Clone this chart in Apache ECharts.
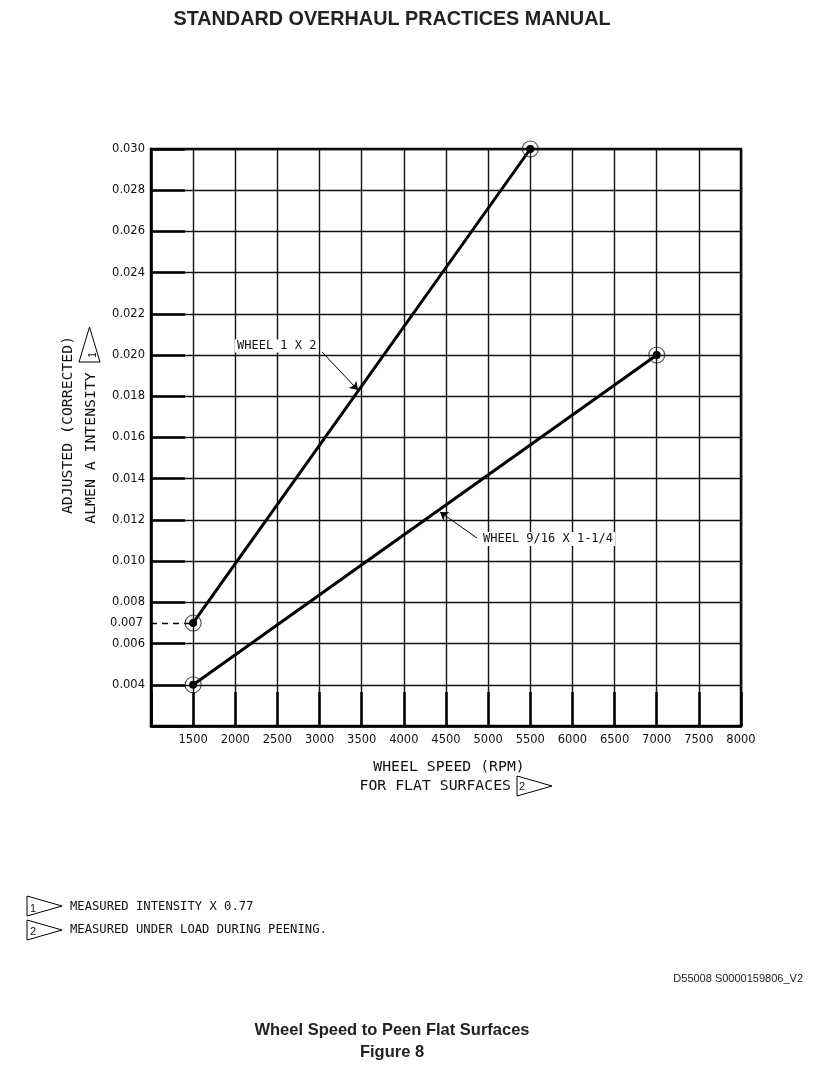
<!DOCTYPE html>
<html>
<head>
<meta charset="utf-8">
<script src="https://cdn.jsdelivr.net/npm/echarts@6/dist/echarts.min.js"></script>
<style>
  html, body { margin: 0; padding: 0; background: #fff; }
  #c { width: 813px; height: 1080px; }
</style>
</head>
<body>
<div id="c"></div>
<script>
// ---- data ----
const wheel1x2 = [[1500, 0.007], [5500, 0.030]];
const wheel916 = [[1500, 0.004], [7000, 0.020]];
const xTickLabels = [1500, 2000, 2500, 3000, 3500, 4000, 4500, 5000, 5500, 6000, 6500, 7000, 7500, 8000];
const yTickLabels = ['0.004', '0.006', '0.008', '0.010', '0.012', '0.014', '0.016', '0.018', '0.020',
                     '0.022', '0.024', '0.026', '0.028', '0.030'];
const refLine007 = [[1000, 0.007], [1500, 0.007]];
const leader1 = [[3029, 0.02015], [3456, 0.0183]];
const leader2 = [[4868, 0.01112], [4429, 0.01239]];

const mono = "'DejaVu Sans Mono', 'Liberation Mono', monospace";
const sans = "'DejaVu Sans', sans-serif";
const arial = "'Liberation Sans', Arial, sans-serif";

const chart = echarts.init(document.getElementById('c'), null, { renderer: 'canvas' });

function tri(points) {
  return { type: 'polygon', z: 20, shape: { points: points },
           style: { fill: '#fff', stroke: '#000', lineWidth: 1 } };
}
function txt(text, x, y, font, align, extra) {
  return { type: 'text', z: 20, style: Object.assign({
    text: text, x: x, y: y, font: font, fill: '#111', align: align || 'left', verticalAlign: 'middle'
  }, extra || {}) };
}

const option = {
  animation: false,
  backgroundColor: '#fff',
  grid: { left: 151, right: 72, top: 149, bottom: 354, show: true, borderColor: '#000', borderWidth: 2.5 },
  xAxis: {
    type: 'value', min: 1000, max: 8000, interval: 500,
    axisLine: { show: true, lineStyle: { color: '#000', width: 2.5 } },
    axisTick: { show: true, inside: true, length: 34, lineStyle: { color: '#000', width: 2.5 } },
    axisLabel: {
      formatter: v => (xTickLabels.indexOf(v) >= 0 ? String(v) : ''),
      color: '#111', fontFamily: sans, fontSize: 11.5, margin: 8
    },
    splitLine: { show: true, lineStyle: { color: '#111', width: 1.4 } }
  },
  yAxis: {
    type: 'value', min: 0.002, max: 0.030, interval: 0.002,
    axisLine: { show: true, lineStyle: { color: '#000', width: 2.5 } },
    axisTick: { show: true, inside: true, length: 34, lineStyle: { color: '#000', width: 2.5 } },
    axisLabel: {
      formatter: v => { const s = v.toFixed(3); return yTickLabels.indexOf(s) >= 0 ? s : ''; },
      color: '#111', fontFamily: sans, fontSize: 11.5, margin: 6
    },
    splitLine: { show: true, lineStyle: { color: '#111', width: 1.4 } }
  },
  series: [
    {
      name: 'WHEEL 1 X 2', type: 'line', data: wheel1x2, clip: false, silent: true, z: 5,
      symbol: 'circle', symbolSize: 8, itemStyle: { color: '#000' },
      lineStyle: { color: '#000', width: 3 },
      markLine: {
        silent: true, symbol: ['none', 'none'], animation: false,
        lineStyle: { type: [6, 5], color: '#000', width: 1.3 },
        label: { show: true, position: 'start', formatter: '0.007', color: '#111',
                 fontFamily: sans, fontSize: 11.5, distance: 8 },
        data: [[{ coord: refLine007[0] }, { coord: refLine007[1] }]]
      }
    },
    {
      name: 'WHEEL 9/16 X 1-1/4', type: 'line', data: wheel916, clip: false, silent: true, z: 5,
      symbol: 'circle', symbolSize: 8, itemStyle: { color: '#000' },
      lineStyle: { color: '#000', width: 3 }
    },
    {
      type: 'scatter', data: wheel1x2, clip: false, silent: true, z: 6, symbolSize: 16,
      itemStyle: { color: 'rgba(0,0,0,0)', borderColor: '#222', borderWidth: 1.1 },
      markLine: {
        silent: true, symbol: ['none', 'arrow'], symbolSize: 8, animation: false,
        lineStyle: { type: 'solid', color: '#000', width: 1 }, label: { show: false },
        data: [[{ coord: leader1[0] }, { coord: leader1[1] }]]
      }
    },
    {
      type: 'scatter', data: wheel916, clip: false, silent: true, z: 6, symbolSize: 16,
      itemStyle: { color: 'rgba(0,0,0,0)', borderColor: '#222', borderWidth: 1.1 },
      markLine: {
        silent: true, symbol: ['none', 'arrow'], symbolSize: 8, animation: false,
        lineStyle: { type: 'solid', color: '#000', width: 1 }, label: { show: false },
        data: [[{ coord: leader2[0] }, { coord: leader2[1] }]]
      }
    }
  ],
  graphic: [
    txt('STANDARD OVERHAUL PRACTICES MANUAL', 392, 20, 'bold 19.8px ' + arial, 'center', { fill: '#222' }),
    // series labels
    txt('WHEEL 1 X 2', 235, 346, '12px ' + mono, 'left', { backgroundColor: '#fff', padding: [1, 2, 0, 2] }),
    txt('WHEEL 9/16 X 1-1/4', 481, 539, '12px ' + mono, 'left', { backgroundColor: '#fff', padding: [1, 2, 1, 2] }),
    // y axis name
    { type: 'text', z: 20, x: 68, y: 425, rotation: Math.PI / 2,
      style: { text: 'ADJUSTED (CORRECTED)', x: 0, y: 0, font: '14.8px ' + mono, fill: '#111', align: 'center', verticalAlign: 'middle' } },
    { type: 'text', z: 20, x: 91, y: 448, rotation: Math.PI / 2,
      style: { text: 'ALMEN A INTENSITY', x: 0, y: 0, font: '14.8px ' + mono, fill: '#111', align: 'center', verticalAlign: 'middle' } },
    tri([[79, 362], [100, 362], [89.5, 327]]),
    { type: 'text', z: 21, x: 93, y: 355, rotation: Math.PI / 2,
      style: { text: '1', x: 0, y: 0, font: '10px ' + arial, fill: '#111', align: 'center', verticalAlign: 'middle' } },
    // x axis name
    txt('WHEEL SPEED (RPM)', 449, 767, '14.8px ' + mono, 'center'),
    txt('FOR FLAT SURFACES', 511, 786, '14.8px ' + mono, 'right'),
    tri([[517, 776], [517, 796], [552, 786]]),
    txt('2', 519, 787, '11px ' + arial, 'left', { z: 21 }),
    // footnotes
    tri([[27, 896], [27, 916], [62, 906]]),
    txt('1', 30, 909, '11px ' + arial, 'left'),
    txt('MEASURED INTENSITY X 0.77', 70, 907, '12.2px ' + mono, 'left'),
    tri([[27, 920], [27, 940], [62, 930]]),
    txt('2', 30, 932, '11px ' + arial, 'left'),
    txt('MEASURED UNDER LOAD DURING PEENING.', 70, 930, '12.2px ' + mono, 'left'),
    // doc id and caption
    txt('D55008 S0000159806_V2', 803, 979, '11px ' + arial, 'right', { fill: '#222' }),
    txt('Wheel Speed to Peen Flat Surfaces', 392, 1030, 'bold 16.5px ' + arial, 'center', { fill: '#222' }),
    txt('Figure 8', 392, 1052, 'bold 16.5px ' + arial, 'center', { fill: '#222' })
  ]
};
chart.setOption(option);
</script>
</body>
</html>
